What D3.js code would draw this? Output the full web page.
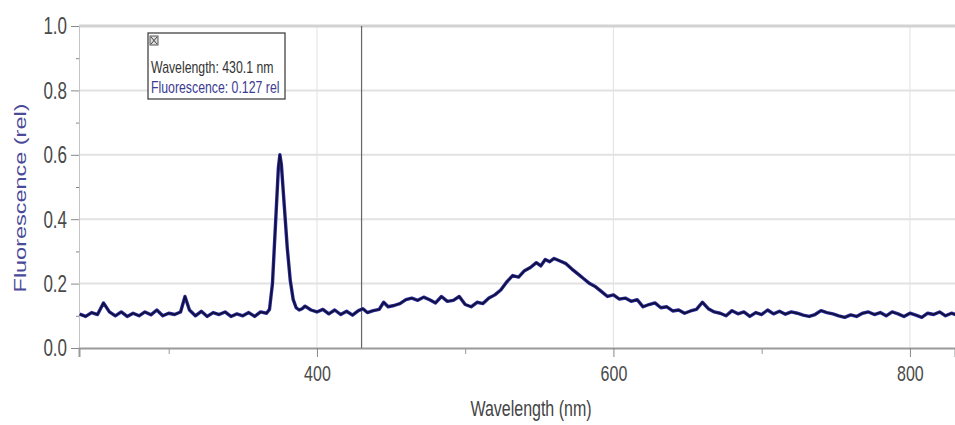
<!DOCTYPE html>
<html>
<head>
<meta charset="utf-8">
<script src="https://cdn.jsdelivr.net/npm/d3@7"></script>
<style>
  body { margin: 0; background: #fff; }
  svg { display: block; font-family: "Liberation Sans", Arial, sans-serif; }
  .tall { transform-box: fill-box; transform-origin: center; transform: scaleY(1.38); }
</style>
</head>
<body>
<div id="chart"></div>
<script>
var width = 955;
var height = 425;

// spectrum (nm, rel)
var wavelengths = [
  240, 244, 248, 252, 256, 260, 264, 268, 272, 276, 280, 284, 288, 292, 296, 300,
  304, 308, 311, 314, 318, 322, 326, 330, 334, 338, 342, 346, 350, 354, 358, 362,
  366, 368, 370, 372, 374, 375, 376, 378, 380, 382, 384, 386, 388, 390, 392, 396,
  400, 404, 408, 412, 416, 420, 424, 428, 431, 434, 438, 442, 445, 448, 452, 456,
  460, 464, 468, 472, 476, 480, 484, 488, 492, 496, 500, 504, 508, 512, 516, 520,
  524, 528, 532, 536, 540, 544, 548, 551, 554, 557, 560, 564, 568, 572, 576, 580,
  584, 588, 592, 596, 600, 604, 608, 612, 616, 620, 624, 628, 632, 636, 640, 644,
  648, 652, 656, 660, 664, 668, 672, 676, 680, 684, 688, 692, 696, 700, 704, 708,
  712, 716, 720, 724, 728, 732, 736, 740, 744, 748, 752, 756, 760, 764, 768, 772,
  776, 780, 784, 788, 792, 796, 800, 804, 808, 812, 816, 820, 824, 828, 832
];
var fluorescence = [
  0.105, 0.098, 0.110, 0.104, 0.140, 0.112, 0.100, 0.112, 0.098, 0.108, 0.100, 0.112, 0.103, 0.118, 0.100, 0.108,
  0.104, 0.112, 0.160, 0.118, 0.100, 0.114, 0.098, 0.110, 0.104, 0.112, 0.098, 0.106, 0.100, 0.110, 0.098, 0.112,
  0.108, 0.120, 0.200, 0.380, 0.560, 0.600, 0.570, 0.440, 0.310, 0.210, 0.150, 0.125, 0.118, 0.122, 0.130, 0.118,
  0.112, 0.120, 0.106, 0.118, 0.104, 0.114, 0.102, 0.116, 0.122, 0.110, 0.116, 0.120, 0.142, 0.128, 0.132, 0.138,
  0.150, 0.155, 0.148, 0.158, 0.150, 0.140, 0.160, 0.145, 0.148, 0.160, 0.135, 0.128, 0.142, 0.138, 0.155, 0.165,
  0.180, 0.205, 0.225, 0.220, 0.240, 0.250, 0.265, 0.255, 0.275, 0.268, 0.278, 0.270, 0.262, 0.245, 0.230, 0.215,
  0.200, 0.190, 0.175, 0.160, 0.165, 0.152, 0.155, 0.145, 0.150, 0.128, 0.135, 0.140, 0.125, 0.128, 0.115, 0.118,
  0.108, 0.115, 0.120, 0.142, 0.122, 0.112, 0.108, 0.100, 0.116, 0.106, 0.112, 0.098, 0.110, 0.104, 0.118, 0.106,
  0.114, 0.105, 0.112, 0.108, 0.102, 0.098, 0.104, 0.116, 0.110, 0.106, 0.100, 0.095, 0.103, 0.098, 0.108, 0.112,
  0.104, 0.110, 0.100, 0.112, 0.106, 0.098, 0.108, 0.102, 0.095, 0.108, 0.104, 0.112, 0.100, 0.108, 0.102
];

var xMajor = [400, 600, 800];
var xMinor = [300, 500, 700];
var yMajor = [0, 0.2, 0.4, 0.6, 0.8, 1.0];
var yMinor = [0.1, 0.3, 0.5, 0.7, 0.9];

var cursorWl = 430.1;
var cursorVal = 0.127;

var margin = {top: 26, right: 0, bottom: 77, left: 79};

var svg = d3.select('#chart')
	.append('svg')
	.attr('width', width)
	.attr('height', height);

var x = d3.scaleLinear()
	.domain([239.5, 830.4])
	.range([margin.left, width - margin.right]);

var y = d3.scaleLinear()
	.domain([0, 1])
	.range([height - margin.bottom, margin.top]);

// grid
svg.append('g')
	.selectAll('line')
	.data(yMajor.filter(d => d > 0 && d < 1))
	.enter().append('line')
		.attr('x1', margin.left).attr('x2', width)
		.attr('y1', d => y(d)).attr('y2', d => y(d))
		.attr('stroke', '#e2e2e2')
		.attr('stroke-width', 2);

svg.append('g')
	.selectAll('line')
	.data(xMajor)
	.enter().append('line')
		.attr('x1', d => x(d)).attr('x2', d => x(d))
		.attr('y1', y(1)).attr('y2', y(0))
		.attr('stroke', '#e2e2e2')
		.attr('stroke-width', 1);

// top frame
svg.append('line')
	.attr('x1', margin.left).attr('x2', width)
	.attr('y1', y(1)).attr('y2', y(1))
	.attr('stroke', '#d2d2d2')
	.attr('stroke-width', 3);

// y axis
var yAxis = svg.append('g')
	.attr('transform', 'translate(' + margin.left + ',0)')
	.call(d3.axisLeft(y).tickValues(yMajor).tickFormat(d3.format('.1f')).tickSize(8).tickPadding(4));
yAxis.select('.domain').attr('stroke', '#c4c4c4');
yAxis.selectAll('.tick line').attr('stroke', '#888');
yAxis.selectAll('text')
	.attr('class', 'tall')
	.attr('fill', '#4a4a4a')
	.style('font-size', '17px');

svg.append('g')
	.attr('transform', 'translate(' + margin.left + ',0)')
	.call(d3.axisLeft(y).tickValues(yMinor).tickFormat('').tickSize(3))
	.call(g => g.select('.domain').remove())
	.selectAll('.tick line').attr('stroke', '#888');

// x axis
var xAxis = svg.append('g')
	.attr('transform', 'translate(0,' + y(0) + ')')
	.call(d3.axisBottom(x).tickValues(xMajor).tickSize(9).tickPadding(11));
xAxis.select('.domain').attr('stroke', '#9a9a9a').attr('stroke-width', 2);
xAxis.selectAll('.tick line').attr('stroke', '#888');
xAxis.selectAll('text')
	.attr('class', 'tall')
	.attr('fill', '#4a4a4a')
	.style('font-size', '16px');

svg.append('g')
	.attr('transform', 'translate(0,' + y(0) + ')')
	.call(d3.axisBottom(x).tickValues(xMinor).tickFormat('').tickSize(6))
	.call(g => g.select('.domain').remove())
	.selectAll('.tick line').attr('stroke', '#999');

// axis titles
svg.append('text')
	.attr('transform', 'translate(20,198) rotate(-90) scale(1.38,1)')
	.attr('text-anchor', 'middle')
	.attr('dy', '0.35em')
	.attr('fill', '#4a4a98')
	.style('font-size', '17px')
	.text('Fluorescence (rel)');

svg.append('text')
	.attr('class', 'tall')
	.attr('x', 531)
	.attr('y', 414)
	.attr('text-anchor', 'middle')
	.attr('fill', '#444')
	.style('font-size', '16px')
	.text('Wavelength (nm)');

// cursor line
svg.append('line')
	.attr('x1', x(cursorWl)).attr('x2', x(cursorWl))
	.attr('y1', y(1)).attr('y2', y(0))
	.attr('stroke', '#666')
	.attr('stroke-width', 1.2);

// spectrum
var points = wavelengths.map((w, i) => [w, fluorescence[i]]);
var line = d3.line()
	.x(d => x(d[0]))
	.y(d => y(d[1]));

svg.append('defs').append('clipPath').attr('id', 'plot')
	.append('rect')
	.attr('x', margin.left).attr('y', margin.top)
	.attr('width', width - margin.left).attr('height', y(0) - margin.top);

svg.append('path')
	.datum(points)
	.attr('clip-path', 'url(#plot)')
	.attr('fill', 'none')
	.attr('stroke', '#2b2b96')
	.attr('stroke-width', 3.4)
	.attr('stroke-linejoin', 'round')
	.attr('d', line);

svg.append('path')
	.datum(points)
	.attr('clip-path', 'url(#plot)')
	.attr('fill', 'none')
	.attr('stroke', '#0e0e38')
	.attr('stroke-width', 1.5)
	.attr('stroke-linejoin', 'round')
	.attr('d', line);

// readout box
var box = svg.append('g').attr('transform', 'translate(148,33)');
box.append('rect')
	.attr('width', 137).attr('height', 66)
	.attr('fill', '#fff')
	.attr('stroke', '#444')
	.attr('stroke-width', 1.3);
box.append('rect')
	.attr('x', 2).attr('y', 3).attr('width', 8).attr('height', 9)
	.attr('fill', '#ddd').attr('stroke', '#555');
box.append('path')
	.attr('d', 'M3,4L9,11M9,4L3,11')
	.attr('stroke', '#444').attr('stroke-width', 1);
box.append('text')
	.attr('class', 'tall')
	.attr('x', 3).attr('y', 38)
	.attr('fill', '#333')
	.style('font-size', '12.3px')
	.text('Wavelength: ' + cursorWl + ' nm');
box.append('text')
	.attr('class', 'tall')
	.attr('x', 3).attr('y', 58)
	.attr('fill', '#3c3c90')
	.style('font-size', '12.3px')
	.text('Fluorescence: ' + cursorVal + ' rel');
</script>
</body>
</html>
